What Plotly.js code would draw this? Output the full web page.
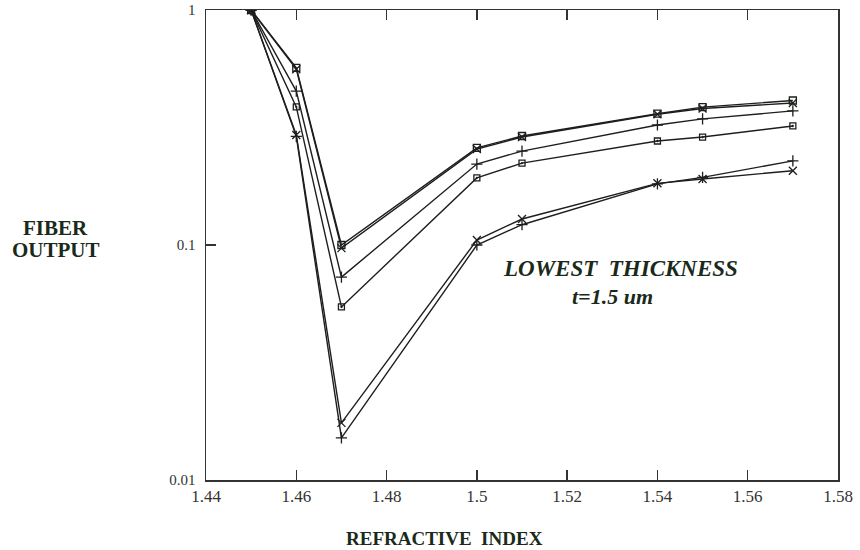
<!DOCTYPE html>
<html>
<head>
<meta charset="utf-8">
<script src="https://cdn.plot.ly/plotly-3.0.1.min.js"></script>
<style>html,body{margin:0;padding:0;background:#fff;}#chart{width:860px;height:550px;}</style>
</head>
<body>
<div id="chart"></div>
<script>
// Refractive index values
const xHigh = [1.45, 1.46, 1.47, 1.50, 1.51, 1.54, 1.55, 1.57];
const xLow  = [1.45, 1.46, 1.47, 1.50, 1.51, 1.54, 1.55, 1.57];

// Fiber output series
const seriesSquareOpen = [1, 0.567, 0.100, 0.259, 0.291, 0.362, 0.386, 0.412];
const seriesCross      = [1, 0.560, 0.097, 0.256, 0.288, 0.360, 0.381, 0.402];
const seriesPlus       = [1, 0.452, 0.073, 0.221, 0.251, 0.324, 0.344, 0.372];
const seriesSquareDot  = [1, 0.387, 0.0545, 0.193, 0.223, 0.277, 0.288, 0.321];
const seriesLowCross   = [1, 0.294, 0.0175, 0.105, 0.129, 0.183, 0.191, 0.207];
const seriesLowPlus    = [1, 0.290, 0.0151, 0.100, 0.122, 0.182, 0.194, 0.228];

const yTicks = [0.01, 0.1, 1];
const yTickText = ['0.01', '0.1', '1'];
const xTicks = [1.44, 1.46, 1.48, 1.5, 1.52, 1.54, 1.56, 1.58];
const xTickText = ['1.44', '1.46', '1.48', '1.5', '1.52', '1.54', '1.56', '1.58'];

const ink = '#1c1f1c';
function tr(x, y, sym, size) {
  return {
    x: x, y: y, type: 'scatter', mode: 'lines+markers',
    line: {color: ink, width: 1.4},
    marker: {symbol: sym, size: size, color: ink, line: {color: ink, width: 1.3}},
    showlegend: false, hoverinfo: 'x+y'
  };
}

const data = [
  tr(xHigh, seriesSquareOpen, 'square-open', 7),
  tr(xHigh, seriesCross, 'x-thin-open', 8),
  tr(xHigh, seriesPlus, 'cross-thin-open', 8),
  tr(xHigh, seriesSquareDot, 'square-open-dot', 6),
  tr(xLow, seriesLowCross, 'x-thin-open', 8),
  tr(xLow, seriesLowPlus, 'cross-thin-open', 8)
];

const serif = '"Liberation Serif", "DejaVu Serif", serif';
const titleInk = '#1a2a1a';
const layout = {
  width: 860, height: 550,
  margin: {l: 206, r: 22, t: 10, b: 70},
  paper_bgcolor: '#fff', plot_bgcolor: '#fff',
  font: {family: serif, color: '#222', size: 14},
  xaxis: {
    range: [1.44, 1.58], tickvals: xTicks, ticktext: xTickText,
    ticks: 'inside', ticklen: 10, tickwidth: 1.3, tickcolor: '#333',
    showline: true, linecolor: '#333', linewidth: 1.5, mirror: 'ticks',
    showgrid: false, zeroline: false,
    tickfont: {family: serif, size: 17, color: '#333'}
  },
  yaxis: {
    type: 'log', range: [-2, 0], tickvals: yTicks, ticktext: yTickText,
    ticks: 'inside', ticklen: 10, tickwidth: 1.3, tickcolor: '#333',
    showline: true, linecolor: '#333', linewidth: 1.5, mirror: true,
    showgrid: false, zeroline: false, ticklabelstandoff: 6,
    tickfont: {family: serif, size: 15, color: '#333'}
  },
  annotations: [
    {xref: 'paper', yref: 'paper', x: -0.238, y: 0.537, xanchor: 'center', yanchor: 'middle',
     text: '<b>FIBER</b>', showarrow: false,
     font: {family: serif, size: 21, color: titleInk}},
    {xref: 'paper', yref: 'paper', x: -0.238, y: 0.49, xanchor: 'center', yanchor: 'middle',
     text: '<b>OUTPUT</b>', showarrow: false,
     font: {family: serif, size: 21, color: titleInk}},
    {xref: 'paper', yref: 'paper', x: 0.378, y: -0.124, xanchor: 'center', yanchor: 'middle',
     text: '<b>REFRACTIVE&nbsp; INDEX</b>', showarrow: false,
     font: {family: serif, size: 19, color: titleInk}},
    {xref: 'x', yref: 'paper', x: 1.5318, y: 0.451, xanchor: 'center', yanchor: 'middle',
     text: '<b><i>LOWEST&nbsp; THICKNESS</i></b>', showarrow: false,
     font: {family: serif, size: 23, color: titleInk}},
    {xref: 'x', yref: 'paper', x: 1.530, y: 0.391, xanchor: 'center', yanchor: 'middle',
     text: '<b><i>t=1.5 um</i></b>', showarrow: false,
     font: {family: serif, size: 22, color: titleInk}}
  ]
};

Plotly.newPlot('chart', data, layout, {displayModeBar: false, staticPlot: true});
</script>
</body>
</html>
